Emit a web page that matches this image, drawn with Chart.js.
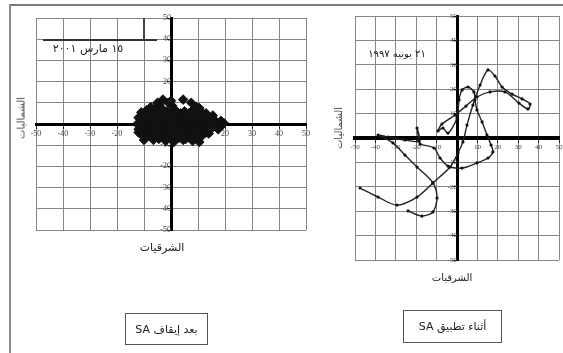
<!DOCTYPE html>
<html><head><meta charset="utf-8">
<script src="https://cdn.jsdelivr.net/npm/chart.js@4/dist/chart.umd.min.js"></script>
<style>
html,body{margin:0;padding:0;width:563px;height:353px;overflow:hidden;background:#fff;}
.abs{position:absolute;}
.ar{position:absolute;font-family:"DejaVu Sans",sans-serif;color:#222;white-space:nowrap;direction:rtl;}
.ctr{transform:translate(-50%,-50%);}
.rot{transform:translate(-50%,-50%) rotate(-90deg);}
.box{position:absolute;border:1px solid #555;display:flex;align-items:center;justify-content:center;font-family:"DejaVu Sans",sans-serif;color:#222;direction:rtl;box-sizing:border-box;}
</style></head><body>
<div class="abs" style="left:10px;top:4px;width:553px;height:0;border-top:2px solid #7a7a7a"></div>
<div class="abs" style="left:9px;top:4px;width:0;height:349px;border-left:2px solid #8a8a8a"></div>

<canvas id="c1" class="abs" style="left:24px;top:6px" width="294" height="236"></canvas>
<canvas id="c2" class="abs" style="left:343px;top:4px" width="228" height="268"></canvas>

<!-- left panel texts -->
<div class="abs" style="left:43px;top:39px;width:114px;height:0;border-top:2px solid #333"></div>
<div class="abs" style="left:143px;top:18px;width:0;height:22px;border-left:2px solid #444"></div>
<div id="d1" class="ar ctr" style="left:88px;top:48px;font-size:11px"></div>
<div id="yt1" class="ar rot" style="left:21px;top:118px;font-size:10px;color:#444"></div>
<div id="xt1" class="ar ctr" style="left:162px;top:247px;font-size:11px"></div>
<div id="b1" class="box" style="left:125px;top:313px;width:83px;height:32px;font-size:11px"></div>

<!-- right panel texts -->
<div id="d2" class="ar ctr" style="left:397px;top:53px;font-size:10px"></div>
<div id="yt2" class="ar rot" style="left:338px;top:128px;font-size:10px;color:#444"></div>
<div id="xt2" class="ar ctr" style="left:452px;top:277px;font-size:10px"></div>
<div id="b2" class="box" style="left:403px;top:310px;width:99px;height:33px;font-size:11px"></div>

<script>
// ---- data ----
const axisTicks = [-50, -40, -30, -20, -10, 0, 10, 20, 30, 40, 50];

const eastingTitle = 'الشرقيات';
const northingTitle = 'الشماليات';
const leftDate = '١٥ مارس ٢٠٠١';
const rightDate = '٢١ يونيه ١٩٩٧';
const leftCaption = 'بعد إيقاف SA';
const rightCaption = 'أثناء تطبيق SA';

// after SA switched off (15 March 2001): scatter of positions [east, north]
const afterSA = [
  [-5,10],[-3,11.5],[0,11],[4.5,11.5],[7.5,10],[-7.5,8],[0.5,8.5],[9.5,8],[-1,10],[-4.5,9],
  [-11,5.5],[-9,6.5],[-6,7],[-3.5,7.5],[-1.5,6],[2,6],[5,6],[8,6.5],[11,6],[13,5],[15.5,4],[10.5,7.5],
  [-8,5],[-5,5.5],[-2.5,5],[0,5.5],[3.5,5],[6.5,5],[9.5,5],[12,4],
  [-12,3],[-9.5,3.5],[-7,4],[-4.5,4.5],[-2,3.5],[0.5,4],[3,3],[5.5,4],[8,3.5],[10.5,3],[13,2.5],[16,2],[18.5,1.5],
  [-11,2],[-8.5,2],[-6,2.5],[-3.5,2],[-1,2.5],[1.5,2],[4,1.5],[6.5,2],[9,1.5],[11.5,1.5],[14,1],[16.5,1],
  [-12.5,0],[-10,1],[-7.5,0],[-5,1],[-2.5,0],[0,1],[2.5,-0.5],[5,0.5],[7.5,0],[10,0.5],[12.5,-0.5],[15,0.5],[17.5,0],[19.5,0.5],
  [-11,-1],[-8.5,-1],[-6,-1],[-3.5,-1.5],[-1,-1],[1.5,-1],[4,-1.5],[6.5,-1],[9,-1.5],[11.5,-1],[14,-1.5],[16.5,-1],[18.5,-1],
  [-12,-2.5],[-9.5,-2],[-7,-3],[-4.5,-2],[-2,-3],[0.5,-2],[3,-3],[5.5,-2],[8,-3],[10.5,-2],[13,-3],[15.5,-1.5],[17.5,-2.5],
  [-12,-4],[-9.5,-4],[-7,-4],[-4.5,-4],[-2,-4.5],[0.5,-4],[3,-4.5],[5.5,-4],[8,-4],[10.5,-4],[13,-4],
  [-11,-5],[-8.5,-5.5],[-6,-5],[-3.5,-6],[-1,-5],[1.5,-6],[4,-5],[6.5,-6],[9,-5],[11.5,-5.5],[14,-4.5],
  [-9.5,-6.5],[-7,-6.5],[-4.5,-7],[-2,-6.5],[0.5,-7],[3,-6.5],[5.5,-7],[8,-6.5],[10,-6.5],
  [-10,-7.5],[-6.5,-7.5],[-2,-8],[1,-8.5],[4.5,-7.5],[8,-8],[10.5,-8.5]
];

// during SA (21 June 1997): wandering track [east, north]
const duringSA = [
  [-47.5,-20.5],[-38.7,-24.2],[-29.4,-27.5],[-19.6,-24.2],[-11.8,-18.4],[-3.4,-11.9],[0.5,-6.1],[2.9,-1.6],
  [4.9,5.3],[7.8,13.5],[11.3,21.7],[15.2,27.9],[18.6,25.4],[22.1,20.9],[27.0,18.0],[31.9,16.0],[35.8,13.9],
  [34.8,11.9],[30.4,14.3],[23.5,18.9],[16.2,18.9],[9.8,16.8],[4.4,13.1],[-1.0,9.4],[-7.4,5.7],[-9.3,2.9],
  [-6.9,4.1],[-4.4,2.0],[0,8.2],[1.0,15.6],[2.5,19.7],[5.4,20.9],[8.3,18.9],[8.8,15.6],[9.8,11.5],[12.3,6.6],
  [14.7,1.2],[16.7,-2.9],[17.6,-5.7],[15.2,-8.2],[9.8,-10.2],[2.5,-12.3],[-4.4,-11.5],[-8.3,-8.2],[-11.3,-4.1],
  [-18.1,-2.5],[-18.6,-1.2],[-19.6,4.1],[-18.6,-1.2],[-25.5,-0.8],[-33.8,0.4],[-38.7,1.2],[-31.4,-2.0],
  [-25.5,-7.0],[-19.6,-11.9],[-11.8,-18.4],[-9.8,-24.6],[-11.8,-30.3],[-17.2,-32.0],[-24.0,-29.9]
];

// ---- texts ----
document.getElementById('d1').textContent = leftDate;
document.getElementById('d2').textContent = rightDate;
document.getElementById('yt1').textContent = northingTitle;
document.getElementById('yt2').textContent = northingTitle;
document.getElementById('xt1').textContent = eastingTitle;
document.getElementById('xt2').textContent = eastingTitle;
document.getElementById('b1').textContent = leftCaption;
document.getElementById('b2').textContent = rightCaption;

function makeScales(fontSize, xBorder, yBorder) {
  const common = {
    type: 'linear', min: -50, max: 50,
    afterBuildTicks: s => { s.ticks = axisTicks.map(v => ({ value: v })); },
    grid: { color: '#858585', lineWidth: 1, tickLength: 3, tickColor: '#222' },
    ticks: {
      color: '#444', font: { family: 'Liberation Serif', size: fontSize },
      autoSkip: false, maxRotation: 0, padding: 2,
      callback: v => (v === 0 ? '' : String(v))
    }
  };
  return {
    x: { ...common, position: { y: 0 }, afterFit: s => { s.height = 0; }, border: { color: '#000', width: xBorder } },
    y: { ...common, position: { x: 0 }, afterFit: s => { s.width = 0; }, border: { color: '#000', width: yBorder } }
  };
}

const baseOpts = {
  responsive: false, animation: false, events: [],
  layout: { padding: 12 },
  plugins: { legend: { display: false }, tooltip: { enabled: false } }
};

new Chart(document.getElementById('c1'), {
  type: 'scatter',
  data: { datasets: [{
    data: afterSA.map(([x, y]) => ({ x, y })),
    pointStyle: 'rectRot', pointRadius: 4.8,
    backgroundColor: '#111', borderColor: '#111', borderWidth: 1
  }]},
  options: { ...baseOpts, scales: makeScales(8, 3, 3) }
});

new Chart(document.getElementById('c2'), {
  type: 'scatter',
  data: { datasets: [{
    data: duringSA.map(([x, y]) => ({ x, y })),
    showLine: true, tension: 0.3,
    borderColor: '#222', borderWidth: 1.4,
    pointRadius: 1.6, pointBackgroundColor: '#111', pointBorderWidth: 0
  }]},
  options: { ...baseOpts, scales: makeScales(7, 4, 3) }
});
</script>
</body></html>
